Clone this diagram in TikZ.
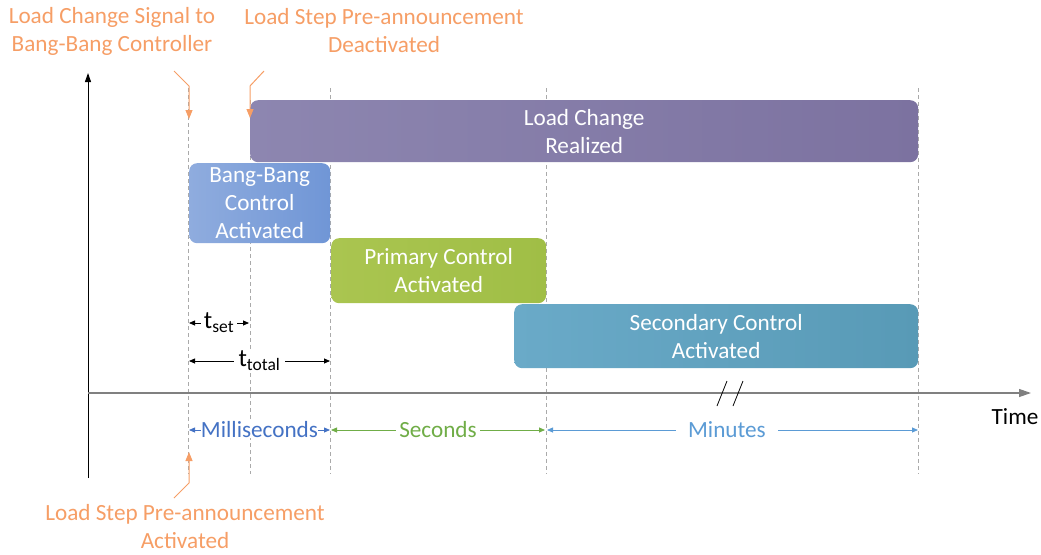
\documentclass[tikz,border=0pt]{standalone}
\usepackage{fontspec}
\setmainfont{Carlito}
\usetikzlibrary{arrows.meta}
\definecolor{orng}{RGB}{246,158,102}
\definecolor{gridg}{RGB}{170,170,170}
\definecolor{axisg}{RGB}{128,128,128}
\definecolor{msblue}{RGB}{68,114,196}
\definecolor{secgreen}{RGB}{112,173,71}
\definecolor{minblue}{RGB}{91,155,213}
\definecolor{purpA}{RGB}{141,134,176}
\definecolor{purpB}{RGB}{124,114,160}
\definecolor{bbA}{RGB}{143,172,222}
\definecolor{bbB}{RGB}{112,150,214}
\definecolor{prA}{RGB}{170,197,80}
\definecolor{prB}{RGB}{160,190,70}
\definecolor{scA}{RGB}{106,170,200}
\definecolor{scB}{RGB}{88,154,182}
\begin{document}
\begin{tikzpicture}[x=1pt,y=-1pt,
  txt/.style={font=\fontsize{23.2}{28}\selectfont, align=center, inner sep=0pt},
  box/.style={txt, text=white, rounded corners=8pt, anchor=north west},
  grid/.style={gridg, dash pattern=on 4pt off 3pt, line width=0.8pt},
  oarrow/.style={orng, line width=1pt, -{Triangle[length=9pt,width=7pt]}},
  dim/.style={line width=0.8pt, {Triangle[length=6pt,width=5pt]}-{Triangle[length=6pt,width=5pt]}},
  lbl/.style={fill=white, inner sep=2pt, font=\fontsize{23.2}{26}\selectfont},
  tlbl/.style={fill=white, inner sep=2pt, font=\fontsize{25}{26}\selectfont}]
\useasboundingbox (0,0) rectangle (1041,554);

% dashed time lines
\foreach \x/\t in {188/88, 250/100, 330/88, 546/88, 918/88}
  \draw[grid] (\x,\t) -- (\x,474);

% boxes
\node[box, left color=purpA, right color=purpB, minimum width=668, minimum height=62] (lc) at (250,100) {};
\node[txt, text=white] (lct) at (lc.center) {Load Change\\Realized};
\node[box, left color=bbA, right color=bbB, minimum width=141, minimum height=80] (bb) at (189,163) {};
\node[txt, text=white] (bbt) at (bb.center) {Bang-Bang\\Control\\Activated};
\node[box, left color=prA, right color=prB, minimum width=215, minimum height=65] (pr) at (331,238) {};
\node[txt, text=white] (prt) at (pr.center) {Primary Control\\Activated};
\node[box, left color=scA, right color=scB, minimum width=404, minimum height=64] (sc) at (514,304) {};
\node[txt, text=white] (sct) at (sc.center) {Secondary Control\\Activated};

% axes
\coordinate (o) at (88,393);
\coordinate (ytop) at (88,73);
\coordinate (ybot) at (88,478);
\coordinate (xend) at (1031,393);
\draw[black, line width=1pt, -{Triangle[length=9pt,width=6pt]}] (ybot) -- (ytop);
\draw[axisg, line width=1.2pt, -{Triangle[length=12pt,width=8pt]}] (o) -- (xend);
\coordinate (b1a) at (717,406); \coordinate (b1b) at (727,381);
\coordinate (b2a) at (733,406); \coordinate (b2b) at (743,381);
\draw[black, line width=0.8pt] (b1a) -- (b1b);
\draw[black, line width=0.8pt] (b2a) -- (b2b);
\node[txt, anchor=center] (time) at (1015,417) {Time};

% orange labels
\node[txt, text=orng] (l1) at (112,31) {Load Change Signal to\\Bang-Bang Controller};
\node[txt, text=orng] (l2) at (384,31) {Load Step Pre-announcement\\Deactivated};
\node[txt, text=orng] (l3) at (185,527) {Load Step Pre-announcement\\Activated};
\coordinate (a1s) at (174,71); \coordinate (a1m) at (189,86); \coordinate (a1e) at (189,119);
\coordinate (a2s) at (264,71); \coordinate (a2m) at (250,86); \coordinate (a2e) at (250,118);
\coordinate (a3s) at (174,498); \coordinate (a3m) at (189,483); \coordinate (a3e) at (189,452);
\draw[oarrow] (a1s) -- (a1m) -- (a1e);
\draw[oarrow] (a2s) -- (a2m) -- (a2e);
\draw[oarrow] (a3s) -- (a3m) -- (a3e);

% durations
\coordinate (ts1) at (189,323); \coordinate (ts2) at (249,323);
\draw[dim, black] (ts1) -- (ts2) node[midway, tlbl, inner xsep=3pt] (tset) {t\textsubscript{set}};
\coordinate (tt1) at (189,361); \coordinate (tt2) at (330,361);
\draw[dim, black] (tt1) -- (tt2) node[midway, tlbl, inner xsep=5pt] (ttot) {t\textsubscript{total}};

\coordinate (m1) at (189,430); \coordinate (m2) at (330,430);
\draw[dim, msblue] (m1) -- (m2) node[midway, lbl, text=msblue, inner sep=0pt] (ms) {Milliseconds};
\coordinate (s1) at (331,430); \coordinate (s2) at (545,430);
\draw[dim, secgreen] (s1) -- (s2) node[midway, lbl, text=secgreen, inner xsep=3pt] (sec) {Seconds};
\coordinate (n1) at (547,430); \coordinate (n2) at (918,430);
\draw[dim, minblue] (n1) -- (n2) node[pos=0.485, lbl, text=minblue, inner xsep=12pt] (mins) {Minutes};
\end{tikzpicture}
\end{document}
